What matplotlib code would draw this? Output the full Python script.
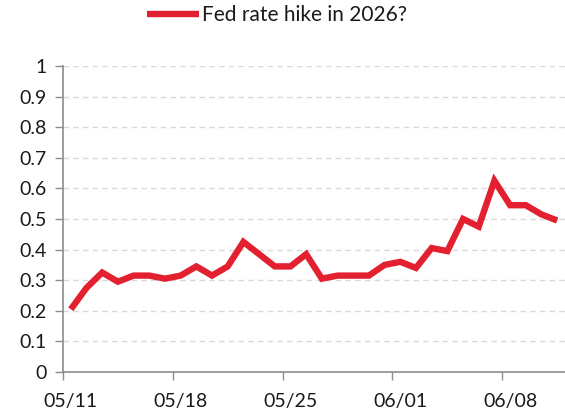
import numpy as np
import matplotlib
matplotlib.use("Agg")
import matplotlib.pyplot as plt
from matplotlib.ticker import FixedLocator, NullFormatter, FixedFormatter

# daily odds, 05/11 .. 06/11
dates = ['05/11', '05/12', '05/13', '05/14', '05/15', '05/16', '05/17', '05/18',
         '05/19', '05/20', '05/21', '05/22', '05/23', '05/24', '05/25', '05/26',
         '05/27', '05/28', '05/29', '05/30', '05/31', '06/01', '06/02', '06/03',
         '06/04', '06/05', '06/06', '06/07', '06/08', '06/09', '06/10', '06/11']
hike_2026 = [0.205, 0.275, 0.325, 0.295, 0.315, 0.315, 0.305, 0.315,
             0.345, 0.315, 0.345, 0.425, 0.385, 0.345, 0.345, 0.385,
             0.305, 0.315, 0.315, 0.315, 0.35, 0.36, 0.34, 0.405,
             0.395, 0.5, 0.475, 0.625, 0.545, 0.545, 0.515, 0.495]
label_every = 7
series_name = 'Fed rate hike in 2026?'

plt.rcParams['font.family'] = ['Lato', 'DejaVu Sans']

fig = plt.figure(figsize=(5.65, 4.16), dpi=100)
ax = fig.add_axes([0.1115, 0.1058, 0.8885, 0.7356])

x = np.arange(len(dates))
line, = ax.plot(x, hike_2026, color='#E3202F', lw=4.6, solid_joinstyle='miter',
                solid_capstyle='butt', label=series_name)

ax.set_ylim(0, 1)
ax.set_xlim(-0.5, len(dates) - 0.5)
yt = np.round(np.arange(0, 1.01, 0.1), 1)
ax.set_yticks(yt)
ax.set_yticklabels(['0' if v == 0 else ('1' if v == 1 else f'{v:g}') for v in yt])

# ticks sit between days, labels centred on the day
pos = list(range(0, len(dates), label_every))
ax.xaxis.set_major_locator(FixedLocator([p - 0.5 for p in pos]))
ax.xaxis.set_major_formatter(NullFormatter())
ax.xaxis.set_minor_locator(FixedLocator(pos))
ax.xaxis.set_minor_formatter(FixedFormatter([dates[p] for p in pos]))
ax.tick_params(axis='x', which='major', length=6, width=1, color='#8c8c8c')
ax.tick_params(axis='x', which='minor', length=0, labelsize=14, pad=15, labelcolor='#1a1a1a')
ax.tick_params(axis='y', length=6, width=1, color='#8c8c8c', labelsize=14, pad=6,
               labelcolor='#1a1a1a')

ax.grid(axis='y', color='#d9d9d9', ls=(0, (4, 3)), lw=1)
ax.set_axisbelow(True)
for s in ['top', 'right']:
    ax.spines[s].set_visible(False)
for s in ['left', 'bottom']:
    ax.spines[s].set_color('#8c8c8c')
    ax.spines[s].set_linewidth(1.2)

fig.legend(handles=[line], loc='center', bbox_to_anchor=(0.49, 0.963), frameon=False,
           fontsize=15, handlelength=2.5, handletextpad=0.15, labelcolor='#1a1a1a')

fig.savefig('out.png', dpi=100)
